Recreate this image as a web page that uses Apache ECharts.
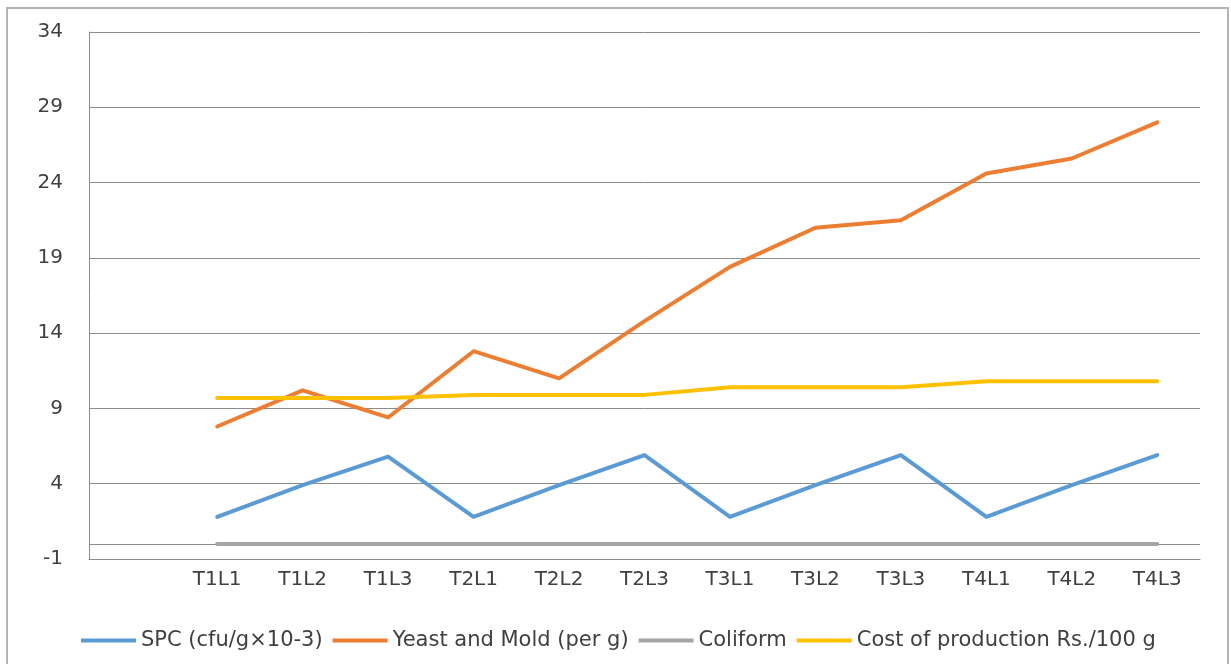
<!DOCTYPE html>
<html>
<head>
<meta charset="utf-8">
<script src="https://cdn.jsdelivr.net/npm/echarts@6/dist/echarts.min.js"></script>
<style>
	html, body { margin: 0; padding: 0; background: #fff; }
	#chart { width: 1231px; height: 664px; }
</style>
</head>
<body>
<div id="chart"></div>
<script>
// data
var categories = ['T1L1', 'T1L2', 'T1L3', 'T2L1', 'T2L2', 'T2L3', 'T3L1', 'T3L2', 'T3L3', 'T4L1', 'T4L2', 'T4L3'];
var spc = [1.8, 3.9, 5.8, 1.8, 3.9, 5.9, 1.8, 3.9, 5.9, 1.8, 3.9, 5.9];
var yeastMold = [7.8, 10.2, 8.4, 12.8, 11.0, 14.8, 18.4, 21.0, 21.5, 24.6, 25.6, 28.0];
var coliform = [0, 0, 0, 0, 0, 0, 0, 0, 0, 0, 0, 0];
var cost = [9.7, 9.7, 9.7, 9.9, 9.9, 9.9, 10.4, 10.4, 10.4, 10.8, 10.8, 10.8];
var seriesNames = ['SPC (cfu/g×10-3)', 'Yeast and Mold (per g)', 'Coliform', 'Cost of production Rs./100 g'];
var colors = ['#5B9BD5', '#ED7D31', '#A5A5A5', '#FFC000'];

var myChart = echarts.init(document.getElementById('chart'));
var font = 'DejaVu Sans';

// first slot of the category axis stays empty, as in the original
function pad(arr) {
	return [null].concat(arr);
}

function lineSeries(name, data, color) {
	return {
		name: name,
		type: 'line',
		data: pad(data),
		showSymbol: false,
		symbol: 'none',
		lineStyle: { color: color, width: 4, cap: 'round', join: 'round' },
		itemStyle: { color: color },
		z: 3
	};
}

var series = [
	lineSeries(seriesNames[0], spc, colors[0]),
	lineSeries(seriesNames[1], yeastMold, colors[1]),
	lineSeries(seriesNames[2], coliform, colors[2]),
	lineSeries(seriesNames[3], cost, colors[3])
];
// horizontal axis crossing at 0
series[2].markLine = {
	silent: true,
	symbol: 'none',
	label: { show: false },
	lineStyle: { color: '#8c8c8c', width: 1, type: 'solid' },
	data: [{ yAxis: 0 }],
	z: 1
};

option = {
	animation: false,
	color: colors,
	graphic: [{
		type: 'rect',
		shape: { x: 7, y: 8, width: 1221, height: 680 },
		style: { fill: 'none', stroke: '#b4b4b4', lineWidth: 2 },
		silent: true
	}],
	grid: { left: 89, right: 31, top: 32, bottom: 105 },
	legend: {
		left: 76,
		top: 625,
		icon: 'rect',
		itemWidth: 55,
		itemHeight: 4,
		itemGap: 10,
		textStyle: { fontFamily: font, fontSize: 21, color: '#404040' },
		data: seriesNames
	},
	xAxis: {
		type: 'category',
		data: [''].concat(categories),
		boundaryGap: true,
		axisLine: { show: true, onZero: false, lineStyle: { color: '#8c8c8c', width: 1 } },
		axisTick: { show: false },
		axisLabel: { fontFamily: font, fontSize: 20, color: '#404040', margin: 11 },
		splitLine: { show: false }
	},
	yAxis: {
		type: 'value',
		min: -1,
		max: 34,
		interval: 5,
		axisLine: { show: true, lineStyle: { color: '#8c8c8c', width: 1 } },
		axisTick: { show: false },
		axisLabel: { fontFamily: font, fontSize: 20, color: '#404040', margin: 26 },
		splitLine: { show: true, lineStyle: { color: '#8c8c8c', width: 1 } }
	},
	series: series
};

myChart.setOption(option);
</script>
</body>
</html>
